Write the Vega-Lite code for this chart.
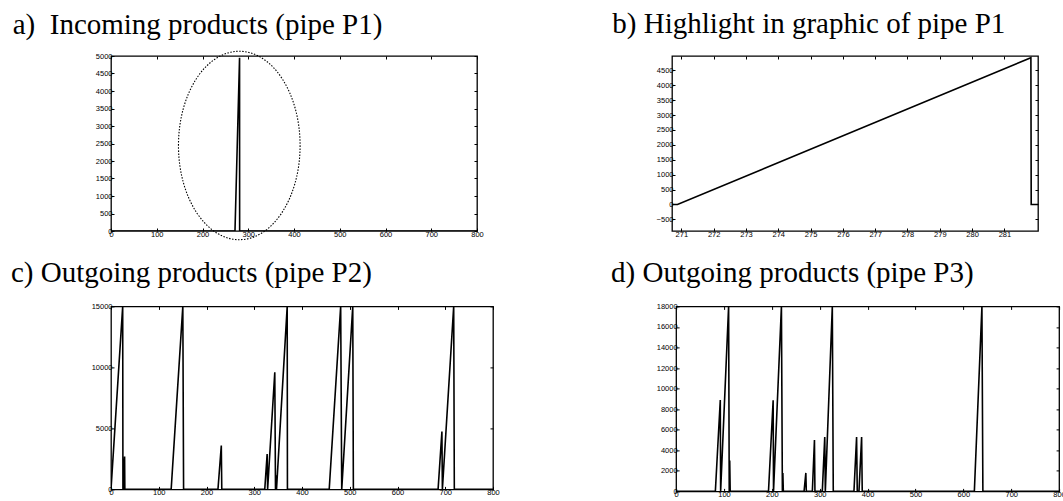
{
  "$schema": "https://vega.github.io/schema/vega-lite/v6.json",
  "background": "white",
  "padding": {"left": 10, "top": 8, "right": 0, "bottom": 0},
  "config": {
    "view": {"stroke": "black", "strokeWidth": 1.3},
    "axis": {"grid": false, "domain": false, "tickColor": "black", "tickSize": -3, "tickWidth": 1, "labelFont": "Liberation Sans", "labelFontSize": 7.5, "labelColor": "#000", "labelPadding": 2, "labelFlush": false, "labelOverlap": false, "format": "d"},
    "title": {"font": "Liberation Serif", "fontSize": 29, "fontWeight": "normal", "anchor": "start", "frame": "group", "color": "black", "baseline": "alphabetic"},
    "line": {"color": "black", "strokeWidth": 1.6}
  },
  "datasets": {
    "pa": [{"x": 0, "y": 0}, {"x": 271, "y": 0}, {"x": 281, "y": 4950}, {"x": 281.2, "y": 0}, {"x": 800, "y": 0}],
    "ell": [{"x": 280.4, "y": 2443}],
    "pb": [{"x": 270.71, "y": 0}, {"x": 270.88, "y": 0}, {"x": 281.82, "y": 4923}, {"x": 281.83, "y": 0}, {"x": 282.04, "y": 0}],
    "pc": [{"x": 0, "y": 0}, {"x": 24.5, "y": 15000}, {"x": 25, "y": 0}, {"x": 26, "y": 0}, {"x": 28.5, "y": 2700}, {"x": 29, "y": 0},
           {"x": 126, "y": 0}, {"x": 150.4, "y": 15000}, {"x": 152, "y": 0},
           {"x": 224, "y": 0}, {"x": 231, "y": 3600}, {"x": 232, "y": 0},
           {"x": 322, "y": 0}, {"x": 327, "y": 2900}, {"x": 328, "y": 0}, {"x": 343, "y": 9600}, {"x": 344.5, "y": 0}, {"x": 346, "y": 1150}, {"x": 346.6, "y": 0}, {"x": 369, "y": 15000}, {"x": 369.5, "y": 0},
           {"x": 457, "y": 0}, {"x": 481, "y": 15000}, {"x": 483.2, "y": 0}, {"x": 506.3, "y": 15000}, {"x": 507.6, "y": 0},
           {"x": 685, "y": 0}, {"x": 693, "y": 4750}, {"x": 694, "y": 0}, {"x": 717.7, "y": 15000}, {"x": 719, "y": 0}, {"x": 800, "y": 0}],
    "pd": [{"x": 0, "y": 0}, {"x": 82, "y": 0}, {"x": 92.3, "y": 8900}, {"x": 93, "y": 0}, {"x": 109.7, "y": 18000}, {"x": 111, "y": 0}, {"x": 112, "y": 3000}, {"x": 113, "y": 0},
           {"x": 193, "y": 0}, {"x": 202.7, "y": 8870}, {"x": 203.5, "y": 0}, {"x": 220, "y": 18000}, {"x": 222, "y": 0}, {"x": 223, "y": 1800}, {"x": 224, "y": 0},
           {"x": 267.3, "y": 0}, {"x": 271, "y": 1800}, {"x": 272, "y": 0},
           {"x": 284.6, "y": 0}, {"x": 289, "y": 5000}, {"x": 290, "y": 0},
           {"x": 305.4, "y": 0}, {"x": 310.5, "y": 5300}, {"x": 311.7, "y": 0}, {"x": 326.3, "y": 18000}, {"x": 328.3, "y": 0},
           {"x": 371.5, "y": 0}, {"x": 377, "y": 5300}, {"x": 378.4, "y": 0},
           {"x": 382, "y": 0}, {"x": 387.5, "y": 5300}, {"x": 388.8, "y": 0},
           {"x": 623, "y": 0}, {"x": 638.8, "y": 18000}, {"x": 640.8, "y": 0}, {"x": 800, "y": 0}]
  },
  "spacing": 14.4,
  "vconcat": [
    {
      "spacing": 127,
      "hconcat": [
        {
          "title": {"text": "a)\u00a0 Incoming products (pipe P1)", "dx": -98.3, "offset": 9},
          "width": 366, "height": 175,
          "layer": [
            {"data": {"name": "pa"}, "mark": {"type": "line", "clip": true},
             "encoding": {
               "x": {"field": "x", "type": "quantitative", "scale": {"domain": [0, 800], "nice": false, "zero": false}, "axis": {"orient": "bottom", "title": null, "values": [0, 100, 200, 300, 400, 500, 600, 700, 800]}},
               "y": {"field": "y", "type": "quantitative", "scale": {"domain": [0, 5000], "nice": false, "zero": false}, "axis": {"orient": "left", "title": null, "values": [0, 500, 1000, 1500, 2000, 2500, 3000, 3500, 4000, 4500, 5000]}}}},
            {"data": {"name": "pa"}, "mark": {"type": "line", "opacity": 0},
             "encoding": {
               "x": {"field": "x", "type": "quantitative", "scale": {"domain": [0, 800], "nice": false, "zero": false}, "axis": {"orient": "top", "title": null, "labels": false, "values": [0, 100, 200, 300, 400, 500, 600, 700, 800]}},
               "y": {"field": "y", "type": "quantitative", "scale": {"domain": [0, 5000], "nice": false, "zero": false}, "axis": {"orient": "right", "title": null, "labels": false, "values": [0, 500, 1000, 1500, 2000, 2500, 3000, 3500, 4000, 4500, 5000]}}}},
            {"data": {"name": "ell"}, "mark": {"type": "point", "shape": "M -0.6455,0 A 0.6455,1 0 1,1 0.6455,0 A 0.6455,1 0 1,1 -0.6455,0 Z", "size": 35500, "filled": false, "stroke": "black", "strokeWidth": 1.1, "strokeDash": [1.5, 1.5], "opacity": 1},
             "encoding": {
               "x": {"field": "x", "type": "quantitative", "scale": {"domain": [0, 800], "nice": false, "zero": false}, "axis": null},
               "y": {"field": "y", "type": "quantitative", "scale": {"domain": [0, 5000], "nice": false, "zero": false}, "axis": null}}}
          ],
          "resolve": {"scale": {"x": "independent", "y": "independent"}}
        },
        {
          "title": {"text": "b) Highlight in graphic of pipe P1", "dx": -59.7, "offset": 17},
          "width": 366, "height": 175,
          "layer": [
            {"data": {"name": "pb"}, "mark": {"type": "line", "clip": true},
             "encoding": {
               "x": {"field": "x", "type": "quantitative", "scale": {"domain": [270.71, 282.04], "nice": false, "zero": false}, "axis": {"orient": "bottom", "title": null, "values": [271, 272, 273, 274, 275, 276, 277, 278, 279, 280, 281]}},
               "y": {"field": "y", "type": "quantitative", "scale": {"domain": [-890, 4980], "nice": false, "zero": false}, "axis": {"orient": "left", "title": null, "values": [-500, 0, 500, 1000, 1500, 2000, 2500, 3000, 3500, 4000, 4500]}}}},
            {"data": {"name": "pb"}, "mark": {"type": "line", "opacity": 0},
             "encoding": {
               "x": {"field": "x", "type": "quantitative", "scale": {"domain": [270.71, 282.04], "nice": false, "zero": false}, "axis": {"orient": "top", "title": null, "labels": false, "values": [271, 272, 273, 274, 275, 276, 277, 278, 279, 280, 281]}},
               "y": {"field": "y", "type": "quantitative", "scale": {"domain": [-890, 4980], "nice": false, "zero": false}, "axis": {"orient": "right", "title": null, "labels": false, "values": [-500, 0, 500, 1000, 1500, 2000, 2500, 3000, 3500, 4000, 4500]}}}}
          ],
          "resolve": {"scale": {"x": "independent", "y": "independent"}}
        }
      ]
    },
    {
      "spacing": 110.1,
      "hconcat": [
        {
          "title": {"text": "c) Outgoing products (pipe P2)", "dx": -100, "offset": 14},
          "width": 382, "height": 183,
          "layer": [
            {"data": {"name": "pc"}, "mark": {"type": "line", "clip": true},
             "encoding": {
               "x": {"field": "x", "type": "quantitative", "scale": {"domain": [0, 800], "nice": false, "zero": false}, "axis": {"orient": "bottom", "title": null, "values": [0, 100, 200, 300, 400, 500, 600, 700, 800]}},
               "y": {"field": "y", "type": "quantitative", "scale": {"domain": [0, 15000], "nice": false, "zero": false}, "axis": {"orient": "left", "title": null, "values": [0, 5000, 10000, 15000]}}}},
            {"data": {"name": "pc"}, "mark": {"type": "line", "opacity": 0},
             "encoding": {
               "x": {"field": "x", "type": "quantitative", "scale": {"domain": [0, 800], "nice": false, "zero": false}, "axis": {"orient": "top", "title": null, "labels": false, "values": [0, 100, 200, 300, 400, 500, 600, 700, 800]}},
               "y": {"field": "y", "type": "quantitative", "scale": {"domain": [0, 15000], "nice": false, "zero": false}, "axis": {"orient": "right", "title": null, "labels": false, "values": [0, 5000, 10000, 15000]}}}}
          ],
          "resolve": {"scale": {"x": "independent", "y": "independent"}}
        },
        {
          "title": {"text": "d) Outgoing products (pipe P3)", "dx": -65, "offset": 14.4},
          "width": 383, "height": 185,
          "layer": [
            {"data": {"name": "pd"}, "mark": {"type": "line", "clip": true},
             "encoding": {
               "x": {"field": "x", "type": "quantitative", "scale": {"domain": [0, 800], "nice": false, "zero": false}, "axis": {"orient": "bottom", "title": null, "values": [0, 100, 200, 300, 400, 500, 600, 700, 800]}},
               "y": {"field": "y", "type": "quantitative", "scale": {"domain": [0, 18000], "nice": false, "zero": false}, "axis": {"orient": "left", "title": null, "values": [0, 2000, 4000, 6000, 8000, 10000, 12000, 14000, 16000, 18000]}}}},
            {"data": {"name": "pd"}, "mark": {"type": "line", "opacity": 0},
             "encoding": {
               "x": {"field": "x", "type": "quantitative", "scale": {"domain": [0, 800], "nice": false, "zero": false}, "axis": {"orient": "top", "title": null, "labels": false, "values": [0, 100, 200, 300, 400, 500, 600, 700, 800]}},
               "y": {"field": "y", "type": "quantitative", "scale": {"domain": [0, 18000], "nice": false, "zero": false}, "axis": {"orient": "right", "title": null, "labels": false, "values": [0, 2000, 4000, 6000, 8000, 10000, 12000, 14000, 16000, 18000]}}}}
          ],
          "resolve": {"scale": {"x": "independent", "y": "independent"}}
        }
      ]
    }
  ]
}
